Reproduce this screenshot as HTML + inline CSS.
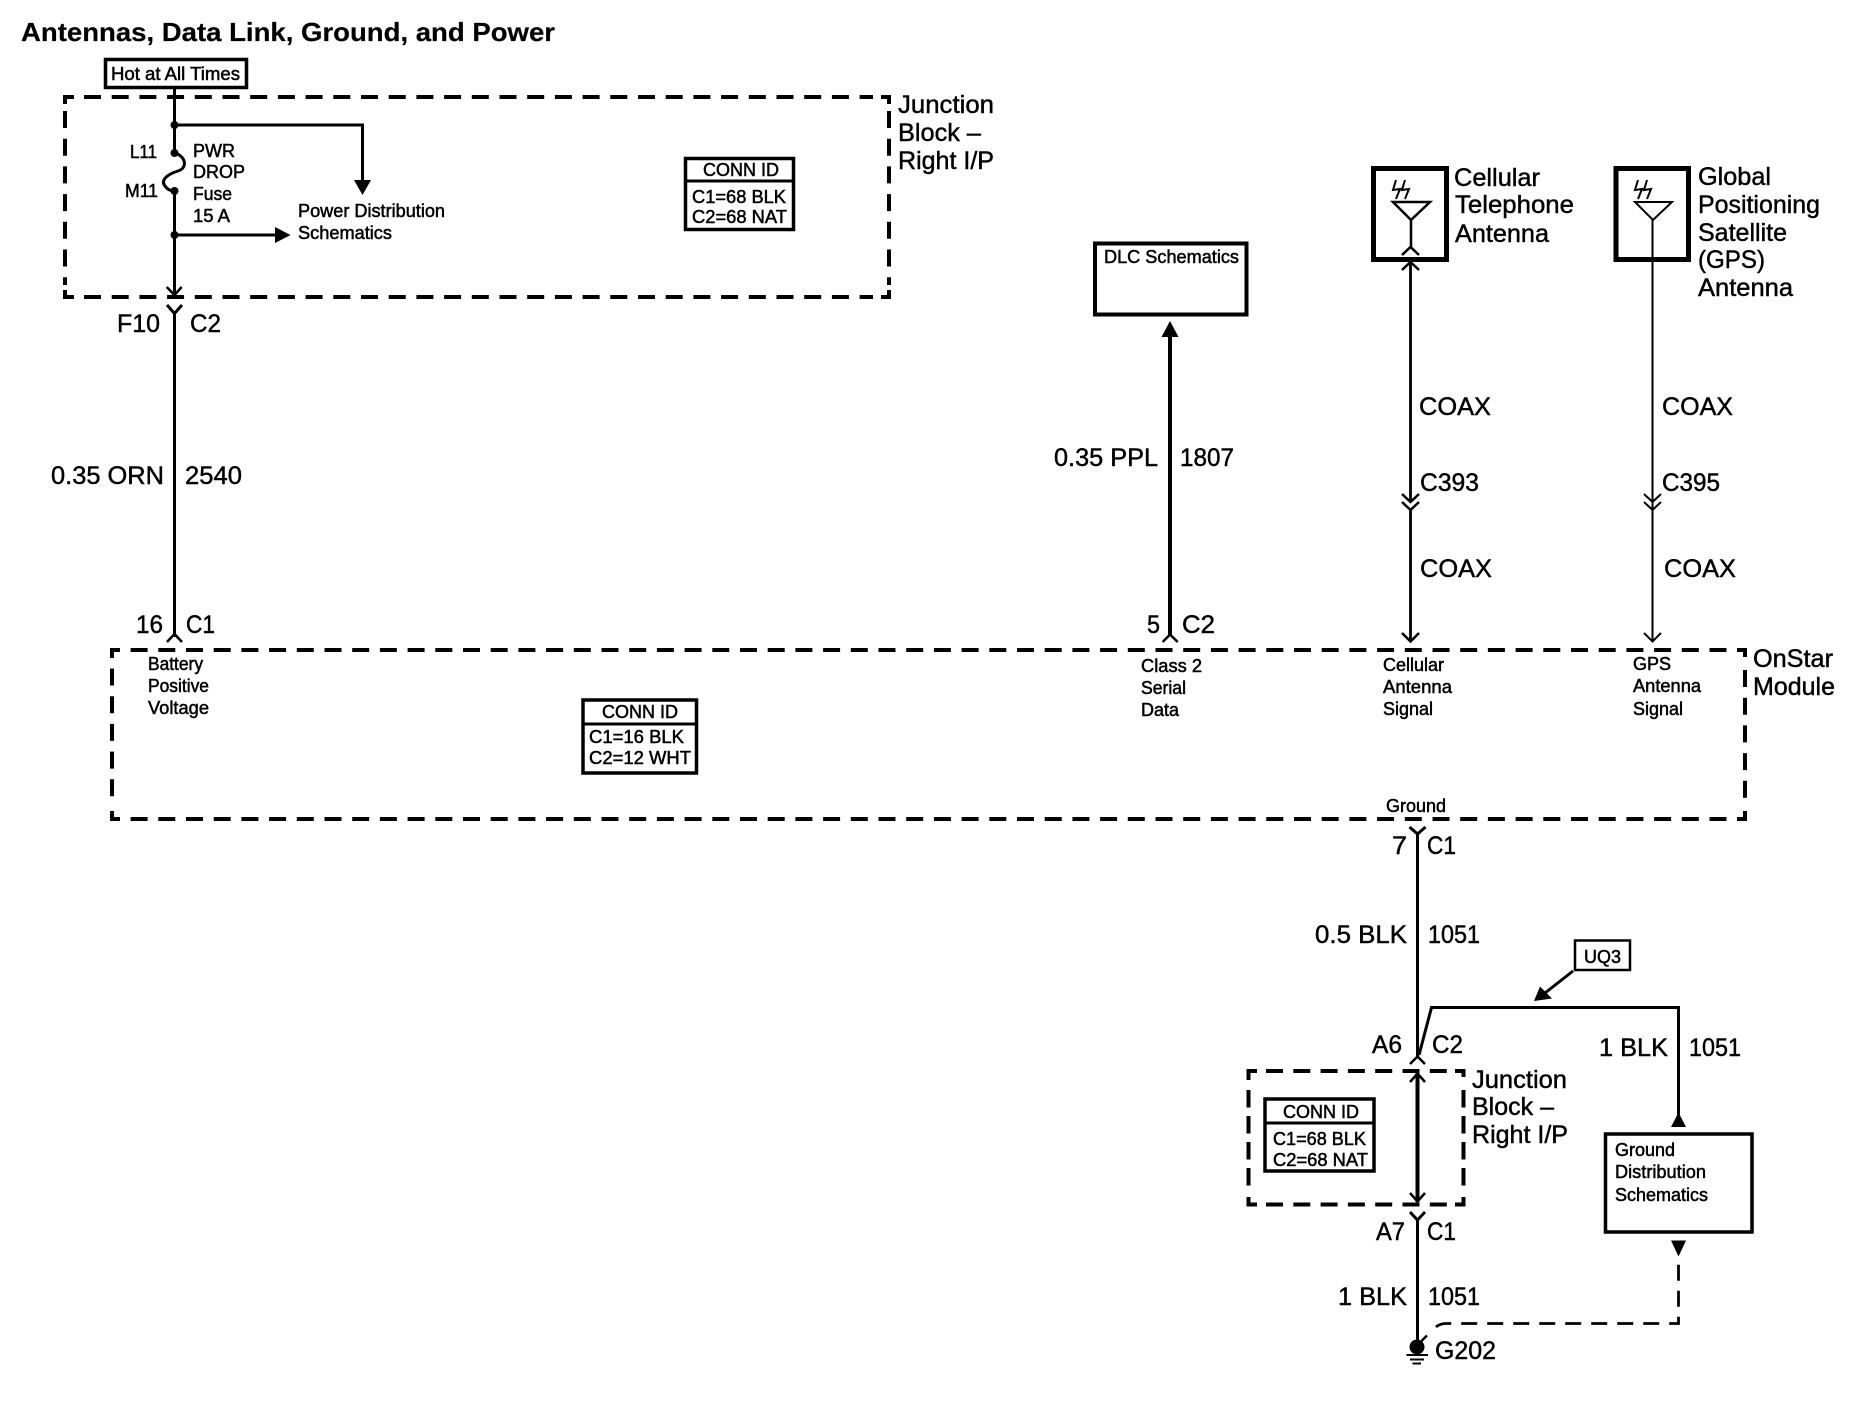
<!DOCTYPE html>
<html><head><meta charset="utf-8"><style>
html,body{margin:0;padding:0;background:#fff}
svg{display:block}
text{font-family:"Liberation Sans",sans-serif;fill:#000;stroke:#000}
.b{font-size:25px;stroke-width:.45}
.s{font-size:18px;stroke-width:.5}
.t{font-size:26px;font-weight:bold;stroke-width:.2}
.d{fill:none;stroke:#000;stroke-width:4;stroke-dasharray:17 10.7}
.e{fill:none;stroke:#000;stroke-width:4;stroke-dasharray:17 10.3}
.v{fill:none;stroke:#000;stroke-width:4;stroke-dasharray:17.5 8.5}
.c{fill:none;stroke:#000;stroke-width:4}
.l{fill:none;stroke:#000;stroke-width:3}
.r{fill:#fff;stroke:#000;stroke-width:3.5}
</style></head><body>
<svg width="1858" height="1408" viewBox="0 0 1858 1408" xmlns="http://www.w3.org/2000/svg">
<text class="t" x="21" y="41" textLength="534" lengthAdjust="spacingAndGlyphs">Antennas, Data Link, Ground, and Power</text>

<!-- top junction block -->
<rect class="r" x="105.500" y="59.500" width="141" height="28"/>
<text class="s" x="111" y="80" textLength="129" lengthAdjust="spacingAndGlyphs">Hot at All Times</text>
<path class="d" d="M84 97H873M84 297H873M65 111V285M889 111V285"/>
<path class="c" d="M65 104V97H74M881 97H889V104M65 290V297H74M881 297H889V290"/>
<path class="l" d="M174.500 88V153M174.500 191V295M174.500 125H362.500V182M174.500 235H278"/>
<path class="l" d="M174.500 153C186 156 188 168 178 171C168 174 160 180 165 186C167 189 170 191 174.500 191"/>
<circle cx="174.500" cy="125" r="4"/><circle cx="174.500" cy="235" r="4"/>
<circle cx="174.500" cy="153" r="4"/><circle cx="174.500" cy="191" r="4"/>
<path d="M354 180H371L362.500 195Z"/>
<path d="M275 227L290.500 235L275 243Z"/>
<path class="l" d="M166.700 287L174.500 295L181.700 287" style="stroke-width:2.500"/>
<text class="s" x="130" y="158" textLength="27" lengthAdjust="spacingAndGlyphs">L11</text>
<text class="s" x="125" y="197" textLength="33" lengthAdjust="spacingAndGlyphs">M11</text>
<text class="s" x="193" y="157" textLength="42" lengthAdjust="spacingAndGlyphs">PWR</text>
<text class="s" x="193" y="178" textLength="52" lengthAdjust="spacingAndGlyphs">DROP</text>
<text class="s" x="193" y="200" textLength="39" lengthAdjust="spacingAndGlyphs">Fuse</text>
<text class="s" x="193" y="222" textLength="37" lengthAdjust="spacingAndGlyphs">15 A</text>
<text class="s" x="298" y="217" textLength="147" lengthAdjust="spacingAndGlyphs">Power Distribution</text>
<text class="s" x="298" y="239" textLength="94" lengthAdjust="spacingAndGlyphs">Schematics</text>
<rect class="r" x="685.500" y="158.500" width="108" height="71"/>
<path class="l" d="M685 181H794"/>
<text class="s" x="703" y="176" textLength="76" lengthAdjust="spacingAndGlyphs">CONN ID</text>
<text class="s" x="692" y="203" textLength="94" lengthAdjust="spacingAndGlyphs">C1=68 BLK</text>
<text class="s" x="692" y="223" textLength="95" lengthAdjust="spacingAndGlyphs">C2=68 NAT</text>
<text class="b" x="898" y="113" textLength="96" lengthAdjust="spacingAndGlyphs">Junction</text>
<text class="b" x="898" y="141" textLength="83" lengthAdjust="spacingAndGlyphs">Block –</text>
<text class="b" x="898" y="169" textLength="96" lengthAdjust="spacingAndGlyphs">Right I/P</text>

<!-- left wire -->
<path class="l" d="M167 305L174.500 313.500L182 305M174.500 313.500V637"/>
<path class="l" d="M167 642L174.500 634L182 642" style="stroke-width:2.500"/>
<text class="b" x="117" y="332" textLength="43" lengthAdjust="spacingAndGlyphs">F10</text>
<text class="b" x="190" y="332" textLength="31" lengthAdjust="spacingAndGlyphs">C2</text>
<text class="b" x="51" y="484" textLength="113" lengthAdjust="spacingAndGlyphs">0.35 ORN</text>
<text class="b" x="185" y="484" textLength="57" lengthAdjust="spacingAndGlyphs">2540</text>
<text class="b" x="136" y="633" textLength="27" lengthAdjust="spacingAndGlyphs">16</text>
<text class="b" x="186" y="633" textLength="29" lengthAdjust="spacingAndGlyphs">C1</text>

<!-- OnStar module -->
<path class="d" d="M130.600 650H1727M130.600 819H1727M112 668.500V800M1745 670V800"/>
<path class="c" d="M112 658V650H120M1737 650H1745V657M112 811V819H120M1737 819H1745V811"/>
<text class="s" x="148" y="670" textLength="55" lengthAdjust="spacingAndGlyphs">Battery</text>
<text class="s" x="148" y="692" textLength="61" lengthAdjust="spacingAndGlyphs">Positive</text>
<text class="s" x="148" y="714" textLength="61" lengthAdjust="spacingAndGlyphs">Voltage</text>
<rect class="r" x="583" y="700" width="113.500" height="73"/>
<path class="l" d="M582 724H698"/>
<text class="s" x="602" y="718" textLength="76" lengthAdjust="spacingAndGlyphs">CONN ID</text>
<text class="s" x="589" y="743" textLength="95" lengthAdjust="spacingAndGlyphs">C1=16 BLK</text>
<text class="s" x="589" y="764" textLength="102" lengthAdjust="spacingAndGlyphs">C2=12 WHT</text>
<text class="s" x="1141" y="672" textLength="61" lengthAdjust="spacingAndGlyphs">Class 2</text>
<text class="s" x="1141" y="694" textLength="45" lengthAdjust="spacingAndGlyphs">Serial</text>
<text class="s" x="1141" y="716" textLength="38" lengthAdjust="spacingAndGlyphs">Data</text>
<text class="s" x="1383" y="671" textLength="61" lengthAdjust="spacingAndGlyphs">Cellular</text>
<text class="s" x="1383" y="693" textLength="69" lengthAdjust="spacingAndGlyphs">Antenna</text>
<text class="s" x="1383" y="715" textLength="50" lengthAdjust="spacingAndGlyphs">Signal</text>
<text class="s" x="1633" y="670" textLength="38" lengthAdjust="spacingAndGlyphs">GPS</text>
<text class="s" x="1633" y="692" textLength="68" lengthAdjust="spacingAndGlyphs">Antenna</text>
<text class="s" x="1633" y="715" textLength="50" lengthAdjust="spacingAndGlyphs">Signal</text>
<text class="s" x="1386" y="812" textLength="60" lengthAdjust="spacingAndGlyphs">Ground</text>
<text class="b" x="1753" y="667" textLength="80" lengthAdjust="spacingAndGlyphs">OnStar</text>
<text class="b" x="1753" y="695" textLength="82" lengthAdjust="spacingAndGlyphs">Module</text>

<!-- DLC -->
<rect class="r" x="1095" y="243.500" width="151.500" height="71" style="stroke-width:4"/>
<text class="s" x="1104" y="263" textLength="135" lengthAdjust="spacingAndGlyphs">DLC Schematics</text>
<path d="M1170 321L1178.500 337H1161.500Z"/>
<path class="l" d="M1170 335V636" style="stroke-width:4"/>
<path class="l" d="M1162.700 642L1170 634.500L1177.700 642" style="stroke-width:2.500"/>
<text class="b" x="1054" y="466" textLength="104" lengthAdjust="spacingAndGlyphs">0.35 PPL</text>
<text class="b" x="1180" y="466" textLength="54" lengthAdjust="spacingAndGlyphs">1807</text>
<text class="b" x="1147" y="633" textLength="13" lengthAdjust="spacingAndGlyphs">5</text>
<text class="b" x="1182" y="633" textLength="33" lengthAdjust="spacingAndGlyphs">C2</text>

<!-- Cellular antenna -->
<rect class="r" x="1373.500" y="168.500" width="73" height="91" style="stroke-width:5"/>
<path class="l" d="M1393 202H1430L1411 220ZM1411 220V247" style="stroke-width:2.500"/>
<path class="l" d="M1402 255L1410.500 247L1419 255M1402 270L1410.500 262L1419 270" style="stroke-width:2.500"/>
<path class="l" d="M1410.500 263V502M1410.500 510V640" style="stroke-width:2.800"/>
<path class="l" d="M1402 494L1410.500 502L1419 494M1402 502L1410.500 510L1419 502M1402 633L1410.500 641.500L1419 633" style="stroke-width:2.500"/>
<path class="l" d="M1396 180L1393 190L1400 189L1396 199M1405 180L1402 190L1409 189L1405 199" style="stroke-width:2"/>
<text class="b" x="1454" y="186" textLength="86" lengthAdjust="spacingAndGlyphs">Cellular</text>
<text class="b" x="1455" y="213" textLength="119" lengthAdjust="spacingAndGlyphs">Telephone</text>
<text class="b" x="1455" y="242" textLength="94" lengthAdjust="spacingAndGlyphs">Antenna</text>
<text class="b" x="1419" y="415" textLength="72" lengthAdjust="spacingAndGlyphs">COAX</text>
<text class="b" x="1420" y="491" textLength="59" lengthAdjust="spacingAndGlyphs">C393</text>
<text class="b" x="1420" y="577" textLength="72" lengthAdjust="spacingAndGlyphs">COAX</text>

<!-- GPS antenna -->
<rect class="r" x="1616" y="168.500" width="72.500" height="91" style="stroke-width:5"/>
<path class="l" d="M1635 202H1672L1653 220ZM1652.500 220V641" style="stroke-width:2"/>
<path class="l" d="M1644 494L1652.500 502L1661 494M1644 502L1652.500 510L1661 502M1644 633L1652.500 641.500L1661 633" style="stroke-width:2"/>
<path class="l" d="M1638 180L1635 190L1642 189L1638 199M1647 180L1644 190L1651 189L1647 199" style="stroke-width:2"/>
<text class="b" x="1698" y="185" textLength="73" lengthAdjust="spacingAndGlyphs">Global</text>
<text class="b" x="1698" y="213" textLength="122" lengthAdjust="spacingAndGlyphs">Positioning</text>
<text class="b" x="1698" y="241" textLength="89" lengthAdjust="spacingAndGlyphs">Satellite</text>
<text class="b" x="1698" y="268" textLength="67" lengthAdjust="spacingAndGlyphs">(GPS)</text>
<text class="b" x="1698" y="296" textLength="95" lengthAdjust="spacingAndGlyphs">Antenna</text>
<text class="b" x="1662" y="415" textLength="71" lengthAdjust="spacingAndGlyphs">COAX</text>
<text class="b" x="1662" y="491" textLength="58" lengthAdjust="spacingAndGlyphs">C395</text>
<text class="b" x="1664" y="577" textLength="72" lengthAdjust="spacingAndGlyphs">COAX</text>

<!-- ground wire -->
<path class="l" d="M1409.500 827L1417.500 834L1425.500 827M1417.500 834V1057"/>
<text class="b" x="1392" y="854" textLength="15" lengthAdjust="spacingAndGlyphs">7</text>
<text class="b" x="1427" y="854" textLength="29" lengthAdjust="spacingAndGlyphs">C1</text>
<text class="b" x="1315" y="943" textLength="92" lengthAdjust="spacingAndGlyphs">0.5 BLK</text>
<text class="b" x="1428" y="943" textLength="52" lengthAdjust="spacingAndGlyphs">1051</text>
<path class="l" d="M1419 1055L1431.500 1007.500H1678.500V1115"/>
<path d="M1678.500 1112.500L1686 1127H1671Z"/>
<rect class="r" x="1575" y="940.500" width="55" height="29.500" style="stroke-width:2.500"/>
<text class="s" x="1584" y="963" textLength="37" lengthAdjust="spacingAndGlyphs">UQ3</text>
<path class="l" d="M1573 971L1545 993"/>
<path d="M1534 1001L1540 986.500L1552 998.500Z"/>
<text class="b" x="1372" y="1053" textLength="30" lengthAdjust="spacingAndGlyphs">A6</text>
<text class="b" x="1432" y="1053" textLength="31" lengthAdjust="spacingAndGlyphs">C2</text>
<path class="l" d="M1410 1064L1417.500 1056.500L1425 1064" style="stroke-width:2.500"/>
<text class="b" x="1599" y="1056" textLength="69" lengthAdjust="spacingAndGlyphs">1 BLK</text>
<text class="b" x="1689" y="1056" textLength="52" lengthAdjust="spacingAndGlyphs">1051</text>

<!-- lower junction block -->
<path class="e" d="M1266 1071H1447M1266 1204.500H1447"/>
<path class="v" d="M1248.500 1090V1190M1463.500 1090V1190"/>
<path class="c" d="M1248.500 1080V1071H1257M1455 1071H1463.500V1077M1248.500 1197V1204.500H1257M1455 1204.500H1463.500V1197"/>
<path class="l" d="M1417.500 1073V1202" style="stroke-width:4"/>
<path class="l" d="M1410 1082L1417.500 1073.500L1425 1082M1410 1193L1417.500 1201.500L1425 1193" style="stroke-width:2.500"/>
<rect class="r" x="1265" y="1099" width="109" height="72"/>
<path class="l" d="M1264 1123H1375"/>
<text class="s" x="1283" y="1118" textLength="76" lengthAdjust="spacingAndGlyphs">CONN ID</text>
<text class="s" x="1273" y="1145" textLength="93" lengthAdjust="spacingAndGlyphs">C1=68 BLK</text>
<text class="s" x="1273" y="1166" textLength="95" lengthAdjust="spacingAndGlyphs">C2=68 NAT</text>
<text class="b" x="1472" y="1088" textLength="95" lengthAdjust="spacingAndGlyphs">Junction</text>
<text class="b" x="1472" y="1115" textLength="82" lengthAdjust="spacingAndGlyphs">Block –</text>
<text class="b" x="1472" y="1143" textLength="96" lengthAdjust="spacingAndGlyphs">Right I/P</text>

<path class="l" d="M1410 1212L1417.500 1220L1425 1212M1417.500 1220V1342"/>
<text class="b" x="1376" y="1240" textLength="29" lengthAdjust="spacingAndGlyphs">A7</text>
<text class="b" x="1427" y="1240" textLength="29" lengthAdjust="spacingAndGlyphs">C1</text>
<text class="b" x="1338" y="1305" textLength="69" lengthAdjust="spacingAndGlyphs">1 BLK</text>
<text class="b" x="1428" y="1305" textLength="52" lengthAdjust="spacingAndGlyphs">1051</text>
<circle cx="1417" cy="1347" r="7.500"/>
<path class="l" d="M1421.500 1341L1427 1335.500" style="stroke-width:2.500"/>
<path class="l" d="M1406.500 1355H1428M1410 1359.500H1424M1412.500 1363.500H1421" style="stroke-width:2"/>
<text class="b" x="1435" y="1359" textLength="61" lengthAdjust="spacingAndGlyphs">G202</text>

<!-- ground distribution -->
<rect class="r" x="1605.500" y="1134" width="146.500" height="98"/>
<text class="s" x="1615" y="1156" textLength="60" lengthAdjust="spacingAndGlyphs">Ground</text>
<text class="s" x="1615" y="1178" textLength="91" lengthAdjust="spacingAndGlyphs">Distribution</text>
<text class="s" x="1615" y="1201" textLength="93" lengthAdjust="spacingAndGlyphs">Schematics</text>
<path d="M1671 1240.500H1686L1678.500 1256.500Z"/>
<path class="l" d="M1436 1327Q1440 1323.500 1446 1323.500H1678.500V1262" style="stroke-dasharray:16 10;stroke-width:2.800"/>
</svg>
</body></html>
